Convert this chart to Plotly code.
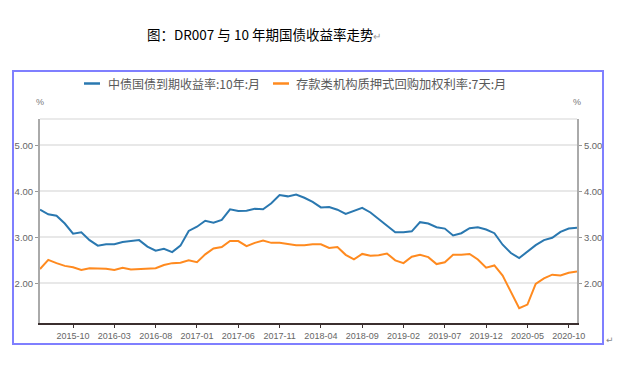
import pandas as pd
import plotly.graph_objects as go

# Monthly categories 2015-06 .. 2020-11
months = [d.strftime("%Y-%m") for d in pd.date_range("2015-06-01", "2020-11-01", freq="MS")]
tick_labels = ["2015-10", "2016-03", "2016-08", "2017-01", "2017-06", "2017-11", "2018-04",
               "2018-09", "2019-02", "2019-07", "2019-12", "2020-05", "2020-10"]

bond_10y = [3.60, 3.50, 3.47, 3.30, 3.08, 3.11, 2.94, 2.82, 2.85, 2.85, 2.90, 2.92, 2.94, 2.80, 2.71, 2.75,
            2.68, 2.82, 3.14, 3.23, 3.36, 3.32, 3.38, 3.61, 3.57, 3.58, 3.62, 3.61, 3.74, 3.92, 3.89, 3.93,
            3.86, 3.77, 3.65, 3.66, 3.60, 3.51, 3.57, 3.64, 3.54, 3.39, 3.25, 3.11, 3.11, 3.13, 3.33, 3.30,
            3.22, 3.19, 3.04, 3.09, 3.20, 3.22, 3.17, 3.09, 2.84, 2.66, 2.55, 2.70, 2.83, 2.94, 2.99, 3.12,
            3.19, 3.21]
dr007 = [2.31, 2.51, 2.44, 2.38, 2.35, 2.29, 2.33, 2.32, 2.32, 2.29, 2.34, 2.30, 2.31, 2.31, 2.33, 2.40,
         2.44, 2.45, 2.50, 2.46, 2.63, 2.76, 2.79, 2.92, 2.92, 2.81, 2.88, 2.93, 2.88, 2.88, 2.86, 2.83,
         2.83, 2.85, 2.85, 2.77, 2.79, 2.62, 2.52, 2.64, 2.60, 2.61, 2.65, 2.50, 2.44, 2.58, 2.62, 2.57,
         2.42, 2.46, 2.62, 2.62, 2.64, 2.52, 2.34, 2.39, 2.17, 1.82, 1.46, 1.54, 1.99, 2.11, 2.19, 2.17,
         2.23, 2.26]

name_bond = "中债国债到期收益率:10年:月"
name_dr = "存款类机构质押式回购加权利率:7天:月"
c_blue = "#2a78b0"
c_orange = "#ff8a1f"

W, H = 621, 367
L, R, T, B = 40, 577, 119, 323

def px(x):
    return (x - L) / (R - L)

def py(y):
    return (B - y) / (B - T)

fig = go.Figure()
fig.add_trace(go.Scatter(x=months, y=bond_10y, mode="lines", name=name_bond,
                         line=dict(color=c_blue, width=2), yaxis="y"))
fig.add_trace(go.Scatter(x=months, y=dr007, mode="lines", name=name_dr,
                         line=dict(color=c_orange, width=2), yaxis="y2"))

yr = [1.14, 5.57]
fig.update_layout(
    width=W, height=H,
    margin=dict(l=L, r=W - R, t=T, b=H - B, pad=0),
    paper_bgcolor="white", plot_bgcolor="white",
    showlegend=False,
    xaxis=dict(type="category", range=[0, len(months) - 1], tickmode="array",
               tickvals=tick_labels, ticktext=tick_labels, ticks="outside", ticklen=3,
               tickcolor="#3b2f2f", showline=True, linecolor="#3b2f2f", linewidth=2,
               showgrid=False, tickangle=0,
               tickfont=dict(family="Liberation Sans, Arial, sans-serif", size=9, color="#666666")),
    yaxis=dict(range=yr, tickvals=[2, 3, 4, 5], tickformat=".2f", ticks="outside", ticklen=3,
               tickcolor="#999999", showline=True, linecolor="#aaaaaa", linewidth=2,
               showgrid=True, gridcolor="#e8e8e8", gridwidth=1.5, zeroline=False,
               tickfont=dict(family="Liberation Sans, Arial, sans-serif", size=9.5, color="#666666")),
    yaxis2=dict(range=yr, tickvals=[2, 3, 4, 5], tickformat=".2f", ticks="outside", ticklen=3,
                tickcolor="#999999", showline=True, linecolor="#aaaaaa", linewidth=2,
                showgrid=False, zeroline=False, overlaying="y", side="right",
                tickfont=dict(family="Liberation Sans, Arial, sans-serif", size=9.5, color="#666666")),
)

shapes = []
# top border line of plot area
shapes.append(dict(type="line", xref="paper", yref="paper", x0=0, x1=1, y0=1, y1=1,
                   line=dict(color="#e3e3e3", width=1.5)))
# outer blue frame
shapes.append(dict(type="rect", xref="paper", yref="paper",
                   x0=px(13), x1=px(603), y0=py(344), y1=py(71),
                   line=dict(color="#7f7fff", width=2), fillcolor="rgba(0,0,0,0)"))
# legend line samples
shapes.append(dict(type="line", xref="paper", yref="paper", x0=px(84), x1=px(100),
                   y0=py(83.5), y1=py(83.5), line=dict(color=c_blue, width=2.5)))
shapes.append(dict(type="line", xref="paper", yref="paper", x0=px(273), x1=px(289),
                   y0=py(83.5), y1=py(83.5), line=dict(color=c_orange, width=2.5)))

cjk = "Noto Sans CJK SC, sans-serif"
ann = []
ann.append(dict(xref="paper", yref="paper", x=px(106), y=py(83.5), xanchor="left", yanchor="middle",
                text=name_bond, showarrow=False, font=dict(family=cjk, size=12, color="#595959")))
ann.append(dict(xref="paper", yref="paper", x=px(294), y=py(83.5), xanchor="left", yanchor="middle",
                text=name_dr, showarrow=False, font=dict(family=cjk, size=12.3, color="#595959")))
ann.append(dict(xref="paper", yref="paper", x=px(40), y=py(101.5), xanchor="center", yanchor="middle",
                text="%", showarrow=False, font=dict(family="Liberation Sans, Arial", size=9, color="#777777")))
ann.append(dict(xref="paper", yref="paper", x=px(577), y=py(101.5), xanchor="center", yanchor="middle",
                text="%", showarrow=False, font=dict(family="Liberation Sans, Arial", size=9, color="#777777")))
ann.append(dict(xref="paper", yref="paper", x=px(145), y=py(34), xanchor="left", yanchor="middle",
                text="图：DR007 与 10 年期国债收益率走势<span style='color:#999999;font-size:10px'>↵</span>",
                showarrow=False, font=dict(family=cjk, size=13.5, color="#000000")))
ann.append(dict(xref="paper", yref="paper", x=px(604), y=py(340), xanchor="left", yanchor="middle",
                text="↵", showarrow=False, font=dict(family="DejaVu Sans", size=9, color="#888888")))

fig.update_layout(shapes=shapes, annotations=ann)
fig.write_html("out.html", config={"displayModeBar": False},
               post_script="document.body.style.margin='0';document.body.style.overflow='hidden';")
